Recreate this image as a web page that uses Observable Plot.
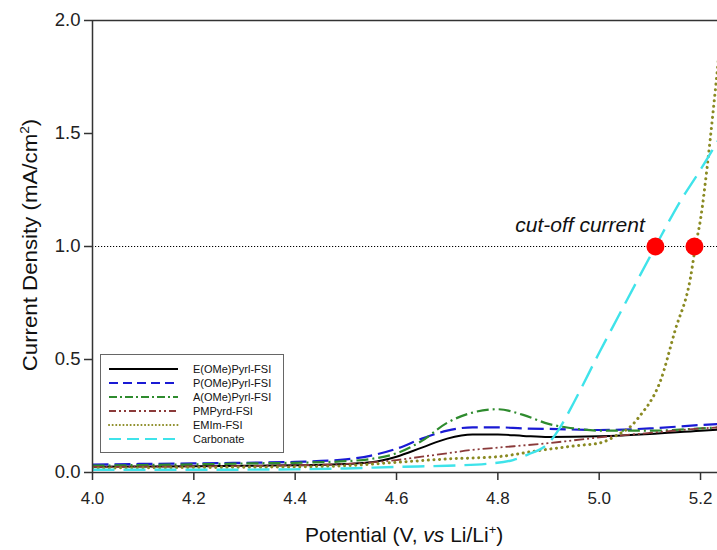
<!DOCTYPE html>
<html>
<head>
<meta charset="utf-8">
<script src="https://cdn.jsdelivr.net/npm/d3@7"></script>
<script src="https://cdn.jsdelivr.net/npm/@observablehq/plot@0.6"></script>
<style>
  body { margin: 0; background: #fff; font-family: "Liberation Sans", Arial, sans-serif; }
  #wrap { position: relative; width: 717px; height: 550px; overflow: hidden; }
  .ttl { position: absolute; font-size: 21px; line-height: 1; color: #111; white-space: nowrap; }
  #legend { position: absolute; left: 100px; top: 354px; width: 182px; height: 97px; border: 1.5px solid #666; background: #fff; }
  #legend .lab { position: absolute; left: 92px; font-size: 11px; color: #111; line-height: 12px; }
</style>
</head>
<body>
<div id="wrap"></div>
<script>
const seriesNames = ["E(OMe)Pyrl-FSI", "P(OMe)Pyrl-FSI", "A(OMe)Pyrl-FSI", "PMPyrd-FSI", "EMIm-FSI", "Carbonate"];

const eOMeX = [4.0, 4.1, 4.2, 4.3, 4.4, 4.5, 4.55, 4.6, 4.65, 4.7, 4.75, 4.8, 4.85, 4.9, 5.0, 5.1, 5.2, 5.24];
const eOMeY = [0.025, 0.027, 0.028, 0.03, 0.032, 0.038, 0.045, 0.07, 0.11, 0.15, 0.168, 0.168, 0.162, 0.157, 0.16, 0.17, 0.185, 0.19];

const pOMeX = [4.0, 4.1, 4.2, 4.3, 4.4, 4.5, 4.55, 4.6, 4.65, 4.7, 4.75, 4.8, 4.85, 4.9, 5.0, 5.1, 5.2, 5.24];
const pOMeY = [0.035, 0.038, 0.04, 0.043, 0.047, 0.058, 0.075, 0.105, 0.15, 0.185, 0.2, 0.2, 0.195, 0.193, 0.188, 0.195, 0.21, 0.215];

const aOMeX = [4.0, 4.1, 4.2, 4.3, 4.4, 4.5, 4.55, 4.6, 4.65, 4.7, 4.75, 4.8, 4.85, 4.9, 4.95, 5.0, 5.1, 5.2, 5.24];
const aOMeY = [0.03, 0.033, 0.036, 0.04, 0.043, 0.05, 0.06, 0.085, 0.14, 0.22, 0.265, 0.28, 0.255, 0.215, 0.195, 0.185, 0.185, 0.195, 0.2];

const pmpX = [4.0, 4.2, 4.4, 4.5, 4.6, 4.65, 4.7, 4.75, 4.8, 4.9, 5.0, 5.1, 5.2, 5.24];
const pmpY = [0.025, 0.027, 0.032, 0.038, 0.055, 0.07, 0.085, 0.1, 0.11, 0.13, 0.155, 0.175, 0.195, 0.2];

const emimX = [4.0, 4.2, 4.4, 4.5, 4.6, 4.7, 4.8, 4.88, 4.96, 5.0, 5.035, 5.065, 5.087, 5.1, 5.12, 5.15, 5.18, 5.19, 5.2, 5.213, 5.225, 5.235];
const emimY = [0.02, 0.022, 0.025, 0.03, 0.045, 0.06, 0.07, 0.097, 0.12, 0.13, 0.165, 0.21, 0.27, 0.31, 0.4, 0.63, 0.86, 1.0, 1.12, 1.35, 1.6, 1.82];

const carbX = [4.0, 4.2, 4.4, 4.5, 4.6, 4.7, 4.785, 4.83, 4.86, 4.9, 4.923, 4.95, 5.0, 5.04, 5.08, 5.111, 5.16, 5.2, 5.235];
const carbY = [0.012, 0.012, 0.014, 0.018, 0.025, 0.03, 0.04, 0.055, 0.08, 0.13, 0.2, 0.31, 0.53, 0.7, 0.87, 1.0, 1.2, 1.34, 1.47];

const xTicks = [4.0, 4.2, 4.4, 4.6, 4.8, 5.0, 5.2];
const yTicks = [0.0, 0.5, 1.0, 1.5, 2.0];
const cutoffLevel = [1.0];
const cutoffX = [5.111, 5.188];
const cutoffLabel = ["cut-off current"];
const labelPos = [{x: 5.09, y: 1.093}];

const colors = ["#000000", "#1a1ad4", "#2e8b2e", "#8b3a3a", "#8a8a22", "#3fe3ea"];
const dashes = ["none", "16,6", "12,4,2,4", "10,3,2,3,2,3", "0.1,5.5", "22,9"];
const widths = [2, 2.2, 2.2, 1.8, 3, 2.4];
const caps = ["butt", "butt", "butt", "butt", "round", "butt"];

const xs = [eOMeX, pOMeX, aOMeX, pmpX, emimX, carbX];
const ys = [eOMeY, pOMeY, aOMeY, pmpY, emimY, carbY];

const lineMarks = xs.map((xa, i) => {
  const data = xa.map((x, j) => ({x, y: ys[i][j]}));
  return Plot.line(data, {
    x: "x", y: "y", curve: "monotone-x", clip: true,
    stroke: colors[i], strokeWidth: widths[i], strokeDasharray: dashes[i], strokeLinecap: caps[i]
  });
});

const plot = Plot.plot({
  width: 717, height: 550,
  marginLeft: 92, marginRight: 0, marginTop: 20, marginBottom: 78,
  style: {fontFamily: "Liberation Sans, Arial, sans-serif", background: "#fff", overflow: "visible"},
  x: {domain: [4.0, 5.2335], ticks: xTicks, tickFormat: d3.format(".1f"), label: null},
  y: {domain: [0, 2], ticks: yTicks, tickFormat: d3.format(".1f"), label: null},
  marks: [
    Plot.ruleY(cutoffLevel, {stroke: "#000", strokeWidth: 1, strokeDasharray: "1.2,1.8"}),
    ...lineMarks,
    Plot.dot(cutoffX, {x: d => d, y: () => cutoffLevel[0], r: 9, fill: "#ff0000", stroke: "none"}),
    Plot.text(labelPos, {x: "x", y: "y", text: () => cutoffLabel[0], textAnchor: "end", fontSize: 21, fontStyle: "italic", fill: "#111"}),
    Plot.ruleY([0], {stroke: "#333", strokeWidth: 1.5}),
    Plot.ruleY([2], {stroke: "#333", strokeWidth: 1.5}),
    Plot.ruleX([4.0], {stroke: "#333", strokeWidth: 1.5}),
    Plot.axisX({ticks: xTicks, tickFormat: d3.format(".1f"), tickSize: 8, tickPadding: 11, fontSize: 17, stroke: "#333", strokeWidth: 1.5, fill: "#222", label: null}),
    Plot.axisY({ticks: yTicks, tickFormat: d3.format(".1f"), tickSize: 8, tickPadding: 4, fontSize: 18.5, stroke: "#333", strokeWidth: 1.5, fill: "#222", label: null})
  ]
});

const wrap = document.getElementById("wrap");
wrap.appendChild(plot);

// axis titles
const xt = document.createElement("div");
xt.className = "ttl";
xt.innerHTML = 'Potential (V, <i>vs</i> Li/Li<sup style="font-size:13px;vertical-align:8px;line-height:0">+</sup>)';
xt.style.left = "305px"; xt.style.top = "524px";
wrap.appendChild(xt);

const yt = document.createElement("div");
yt.className = "ttl";
yt.innerHTML = 'Current Density (mA/cm<sup style="font-size:13px;vertical-align:8px;line-height:0">2</sup>)';
yt.style.left = "29px"; yt.style.top = "245px";
yt.style.transform = "translate(-50%, -50%) rotate(-90deg) scaleX(1.06)";
wrap.appendChild(yt);

// legend
const lg = document.createElement("div");
lg.id = "legend";
const ns = "http://www.w3.org/2000/svg";
const svg = document.createElementNS(ns, "svg");
svg.setAttribute("width", 90); svg.setAttribute("height", 97);
svg.style.position = "absolute"; svg.style.left = "0"; svg.style.top = "0";
seriesNames.forEach((name, i) => {
  const yy = 14 + i * 14;
  const ln = document.createElementNS(ns, "line");
  ln.setAttribute("x1", 8); ln.setAttribute("x2", 77);
  ln.setAttribute("y1", yy); ln.setAttribute("y2", yy);
  ln.setAttribute("stroke", colors[i]);
  ln.setAttribute("stroke-width", i === 4 ? 2 : 1.8);
  const legDash = ["none", "9,5", "8,3,2,3", "7,3,2,3,2,3", "0.1,3.5", "12,6"][i];
  if (legDash !== "none") ln.setAttribute("stroke-dasharray", legDash);
  ln.setAttribute("stroke-linecap", caps[i]);
  svg.appendChild(ln);
  const t = document.createElement("div");
  t.className = "lab";
  t.textContent = name;
  t.style.top = (yy - 6) + "px";
  lg.appendChild(t);
});
lg.appendChild(svg);
wrap.appendChild(lg);
</script>
</body>
</html>
